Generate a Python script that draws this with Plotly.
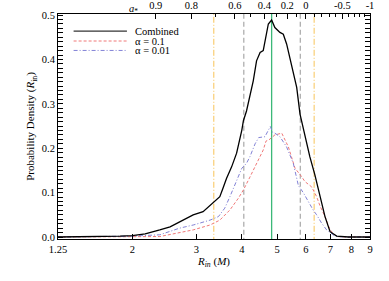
import numpy as np
import plotly.graph_objects as go

# ---- data ----
r_comb = [1.25, 1.63, 1.85, 2.0, 2.17, 2.38, 2.54, 2.70, 2.94, 3.13, 3.27, 3.37, 3.48, 3.55, 3.63, 3.75,
          3.87, 4.00, 4.04, 4.12, 4.21, 4.30, 4.39, 4.49, 4.58, 4.63, 4.73, 4.83, 4.93, 5.09, 5.20,
          5.31, 5.48, 5.66, 5.78, 5.96, 6.15, 6.35, 6.56, 6.77, 6.99, 7.29, 7.85, 9.0]
p_comb = [0.0, 0.0005, 0.002, 0.003, 0.007, 0.016, 0.023, 0.034, 0.050, 0.057, 0.072, 0.080, 0.091, 0.110, 0.132, 0.158,
          0.189, 0.241, 0.262, 0.284, 0.315, 0.352, 0.397, 0.416, 0.420, 0.442, 0.480, 0.489, 0.472, 0.461, 0.457,
          0.435, 0.390, 0.337, 0.277, 0.226, 0.181, 0.140, 0.091, 0.046, 0.012, 0.002, 0.0, 0.0]

r_a01 = [1.25, 1.9, 2.38, 2.94, 3.27, 3.48, 3.71, 3.91, 4.04, 4.21, 4.35, 4.44, 4.58, 4.66, 4.75, 4.93,
         5.15, 5.37, 5.60, 5.84, 5.96, 6.22, 6.42, 6.56, 6.77, 6.99, 7.29, 7.7, 9.0]
p_a01 = [0.0, 0.0, 0.001, 0.016, 0.027, 0.038, 0.061, 0.087, 0.106, 0.135, 0.160, 0.172, 0.196, 0.216, 0.219, 0.230,
         0.234, 0.203, 0.155, 0.136, 0.125, 0.113, 0.091, 0.070, 0.046, 0.016, 0.001, 0.0, 0.0]

r_a001 = [1.25, 1.8, 2.0, 2.38, 2.70, 2.94, 3.27, 3.45, 3.59, 3.71, 3.87, 4.00, 4.12, 4.21, 4.35, 4.45, 4.63,
          4.73, 4.79, 4.86, 4.93, 5.09, 5.31, 5.54, 5.72, 5.90, 6.06, 6.29, 6.42, 6.63, 6.84, 7.21, 7.6, 9.0]
p_a001 = [0.0, 0.001, 0.002, 0.005, 0.020, 0.027, 0.038, 0.046, 0.065, 0.091, 0.128, 0.155, 0.166, 0.181, 0.210, 0.224, 0.226,
          0.243, 0.249, 0.236, 0.234, 0.226, 0.203, 0.166, 0.116, 0.100, 0.083, 0.060, 0.050, 0.031, 0.016, 0.002, 0.0, 0.0]

best_fit = [4.83]
gray_bounds = [4.05, 5.79]
yellow_bounds = [3.35, 6.32]

x_ticks = [1.25, 2, 3, 4, 5, 6, 7, 8, 9]
x_tick_labels = ["1.25", "2", "3", "4", "5", "6", "7", "8", "9"]
spin_major = [0.9, 0.8, 0.6, 0.4, 0.2, 0.0, -0.5, -1.0]
spin_major_labels = ["0.9", "0.8", "0.6", "0.4", "0.2", "0", "-0.5", "-1"]
spin_minor = [0.7, 0.5, 0.3, 0.1, -0.1, -0.2, -0.3, -0.4, -0.6, -0.7, -0.8, -0.9]


def r_isco(a):
    a = np.asarray(a, dtype=float)
    z1 = 1 + np.cbrt(1 - a**2) * (np.cbrt(1 + a) + np.cbrt(1 - a))
    z2 = np.sqrt(3 * a**2 + z1**2)
    return 3 + z2 - np.sign(a) * np.sqrt((3 - z1) * (3 + z1 + 2 * z2))


FONT = "Liberation Serif"
YMIN, YMAX = -0.0045, 0.5025
RED = dict(color="#f07878", width=1, dash="3px,2px")
BLUE = dict(color="#8282d6", width=1, dash="4px,2px,1px,2px")
BLACK = dict(color="black", width=1.3)

fig = go.Figure()

# vertical reference lines
for v in yellow_bounds:
    fig.add_trace(go.Scatter(x=[v, v], y=[YMIN - 1, YMAX + 1], mode="lines", showlegend=False,
                             line=dict(color="#f8c458", width=1, dash="6px,2px,1px,2px"), hoverinfo="skip"))
for v in gray_bounds:
    fig.add_trace(go.Scatter(x=[v, v], y=[YMIN - 1, YMAX + 1], mode="lines", showlegend=False,
                             line=dict(color="#a8a8a8", width=1.2, dash="5px,3px"), hoverinfo="skip"))
for v in best_fit:
    fig.add_trace(go.Scatter(x=[v, v], y=[YMIN - 1, YMAX + 1], mode="lines", showlegend=False,
                             line=dict(color="#3cb878", width=1.3), hoverinfo="skip"))

fig.add_trace(go.Scatter(x=r_a01, y=p_a01, mode="lines", name="α = 0.1", showlegend=False, line=RED))
fig.add_trace(go.Scatter(x=r_a001, y=p_a001, mode="lines", name="α = 0.01", showlegend=False, line=BLUE))
# combined curve drawn on the (identical) top axis so that the spin axis is rendered
fig.add_trace(go.Scatter(x=r_comb, y=p_comb, mode="lines", name="Combined", showlegend=False,
                         line=BLACK, xaxis="x2"))

xr = [np.log10(1.25), np.log10(9)]
fig.update_layout(
    width=389, height=281,
    margin=dict(l=58, r=19, t=14, b=42, autoexpand=False),
    paper_bgcolor="white", plot_bgcolor="white",
    font=dict(family=FONT, size=10.5, color="black"),
    xaxis=dict(type="log", range=xr, tickmode="array", tickvals=x_ticks, ticktext=x_tick_labels,
               ticks="inside", ticklen=5, tickcolor="black", showline=True, linecolor="black", linewidth=1,
               showgrid=False, zeroline=False, automargin=False,
               title=dict(text="<i>R</i><sub><i>in</i></sub> (<i>M</i>)", font=dict(size=11), standoff=0)),
    xaxis2=dict(type="log", range=xr, overlaying="x", side="top", tickmode="array",
                tickvals=list(r_isco(spin_major)), ticktext=spin_major_labels,
                ticks="inside", ticklen=5, tickcolor="black", showline=True, linecolor="black", linewidth=1,
                showgrid=False, zeroline=False, automargin=False,
                minor=dict(tickmode="array", tickvals=list(r_isco(spin_minor)), ticks="inside", ticklen=3,
                           tickcolor="black", showgrid=False)),
    yaxis=dict(range=[YMIN, YMAX], tick0=0, dtick=0.1, tickformat=".1f", ticks="inside", ticklen=5,
               tickcolor="black", showline=True, linecolor="black", linewidth=1, mirror="allticks",
               showgrid=False, zeroline=False, automargin=False,
               minor=dict(dtick=0.01, ticks="inside", ticklen=3, tickcolor="black", showgrid=False),
               title=dict(text="Probability Density (<i>R</i><sub>in</sub>)", font=dict(size=11), standoff=4)),
)

# a* label for top axis
fig.add_annotation(text="<i>a</i><sub>*</sub>", xref="paper", yref="paper", x=0.221, y=1.0,
                   yanchor="bottom", yshift=-4, showarrow=False, font=dict(size=10.5))

# manual legend
legend_items = [("Combined", BLACK), ("α = 0.1", RED), ("α = 0.01", BLUE)]
leg_y = [0.924, 0.880, 0.838]
for (label, ln), yy in zip(legend_items, leg_y):
    fig.add_shape(type="line", xref="paper", yref="paper", x0=0.05, x1=0.221, y0=yy, y1=yy,
                  line=dict(ln, width=1))
    fig.add_annotation(text=label, xref="paper", yref="paper", x=0.24, y=yy, xanchor="left",
                       yanchor="middle", showarrow=False, font=dict(size=10.5))

fig.write_html("out.html", config={"displayModeBar": False},
               post_script="document.body.style.margin='0';document.body.style.overflow='hidden';")
